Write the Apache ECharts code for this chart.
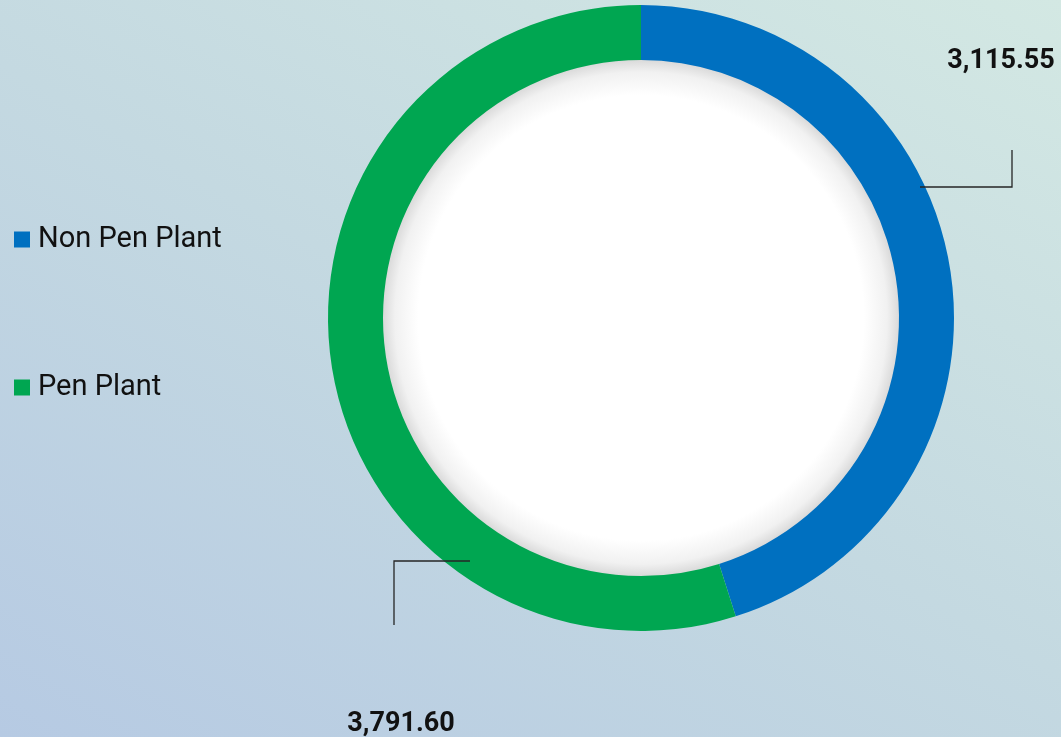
<!DOCTYPE html>
<html>
<head>
<meta charset="utf-8">
<script src="https://cdn.jsdelivr.net/npm/echarts@6/dist/echarts.min.js"></script>
<style>
html,body{margin:0;padding:0;width:100%;height:100%;}
#main{width:1061px;height:737px;background:linear-gradient(30deg,#b6cae3 0%,#c4d9e1 50%,#d3e8e3 100%);}
</style>
</head>
<body>
<div id="main"></div>
<script>
const categories = ['Non Pen Plant', 'Pen Plant'];
const values = [3115.55, 3791.60];
const labelTexts = ['3,115.55', '3,791.60'];
const colors = ['#0070c0', '#00a651'];

const chart = echarts.init(document.getElementById('main'), null, {renderer: 'canvas'});

// label placement (layout only)
const labelPos = [
  {x: 1001, y: 61, line: [[920, 187], [1012, 187], [1012, 150]]},
  {x: 401, y: 724, line: [[470, 561], [394, 561], [394, 625]]}
];

const option = {
  backgroundColor: 'transparent',
  legend: {
    orient: 'vertical',
    left: 14,
    top: 225,
    padding: 0,
    itemGap: 119,
    itemWidth: 16,
    itemHeight: 16,
    icon: 'rect',
    textStyle: {fontFamily: 'Roboto', fontSize: 29, color: '#111', padding: [0, 0, 0, 3]},
    data: categories
  },
  graphic: labelPos.map(lp => ({
    type: 'polyline',
    z: 100,
    silent: true,
    shape: {points: lp.line},
    style: {stroke: '#262626', lineWidth: 1.3, fill: null}
  })),
  series: [
    {
      type: 'pie',
      center: [641, 318],
      radius: [0, 259],
      silent: true,
      z: 1,
      label: {show: false},
      labelLine: {show: false},
      itemStyle: {
        color: {
          type: 'radial', x: 0.5, y: 0.5, r: 0.5,
          colorStops: [
            {offset: 0, color: '#ffffff'},
            {offset: 0.86, color: '#ffffff'},
            {offset: 0.95, color: '#f1f1f1'},
            {offset: 1, color: '#d8d8d8'}
          ]
        }
      },
      data: [{value: 1, name: '_inner'}],
      legendHoverLink: false
    },
    {
      type: 'pie',
      center: [641, 318],
      radius: [258, 313],
      startAngle: 90,
      clockwise: true,
      avoidLabelOverlap: false,
      z: 2,
      itemStyle: {borderWidth: 0},
      label: {
        show: true,
        formatter: p => labelTexts[p.dataIndex],
        fontFamily: 'Roboto',
        fontWeight: 'bold',
        fontSize: 27,
        color: '#111'
      },
      labelLine: {show: false},
      labelLayout: function (params) {
        const lp = labelPos[params.dataIndex];
        return {
          x: lp.x,
          y: lp.y,
          align: 'center',
          verticalAlign: 'middle'
        };
      },
      data: categories.map((c, i) => ({name: c, value: values[i], itemStyle: {color: colors[i]}}))
    }
  ]
};
chart.setOption(option);
</script>
</body>
</html>
